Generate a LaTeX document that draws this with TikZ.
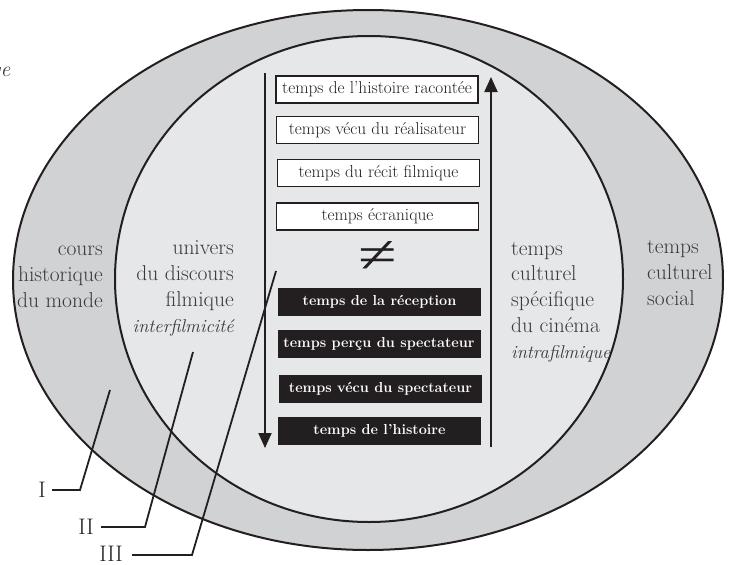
\documentclass[tikz,border=0pt]{standalone}
\usepackage{fontspec}
\newfontfamily\symbolfont{Liberation Serif}
\usetikzlibrary{arrows.meta}
\definecolor{ring}{HTML}{D1D2D4}
\definecolor{innerfill}{HTML}{E6E7E8}
\definecolor{ink}{HTML}{231F20}
\definecolor{labelink}{HTML}{3A3A3A}
\newcommand{\itl}[1]{{\fontsize{18.5}{25.7}\selectfont\itshape #1}}
\begin{document}
\begin{tikzpicture}[x=1pt,y=-1pt,
  whitebox/.style={draw=ink,fill=white,line width=1.2pt,minimum width=202pt,minimum height=27pt,inner sep=0pt,font=\fontsize{17.25}{20}\selectfont,text=ink},
  blackbox/.style={fill=ink,minimum width=203pt,minimum height=28pt,inner sep=0pt,font=\fontsize{14.45}{17}\selectfont\bfseries,text=white},
  lbl/.style={inner sep=0pt,font=\fontsize{21.5}{25.7}\selectfont,text=labelink},
  num/.style={inner sep=0pt,font=\fontsize{22.5}{26}\selectfont,text=ink},
  pointer/.style={draw=ink,line width=1.8pt},
  flow/.style={draw=ink,line width=2pt,-{Triangle[length=15pt,width=13pt]}},
  ring/.style={draw=ink,line width=2pt}
]
\useasboundingbox (0,0) rectangle (732,565);
\path[ring,fill=ring] (368,280) ellipse [x radius=355,y radius=270];
\path[ring,fill=innerfill] (369,279) ellipse [x radius=254,y radius=243];

% cut-off caption fragment
\node[lbl,anchor=base east,font=\fontsize{21.5}{25.7}\selectfont\itshape] (frag) at (10.5,76) {ge};

% boxes
\node[whitebox] (b1) at (377,89.5) {temps de l’histoire racontée};
\node[whitebox] (b2) at (377.5,130) {temps vécu du réalisateur};
\node[whitebox] (b3) at (378.5,173) {temps du récit filmique};
\node[whitebox] (b4) at (377.5,216.5) {temps écranique};
\node[font=\fontsize{52}{52}\symbolfont,text=ink,inner sep=0pt] (neq) at (378,257) {\scalebox{1.35}[1]{≠}};
\node[blackbox] (b5) at (379.5,302) {temps de la réception};
\node[blackbox] (b6) at (379,344) {temps perçu du spectateur};
\node[blackbox] (b7) at (380.5,389) {temps vécu du spectateur};
\node[blackbox] (b8) at (379.5,431) {temps de l’histoire};

% arrows
\coordinate (dtop) at (265,73);
\coordinate (dbot) at (265,448);
\coordinate (ubot) at (491,447);
\coordinate (utop) at (491,77);
\draw[flow] (dtop) -- (dbot);
\draw[flow] (ubot) -- (utop);

% labels (base anchor = baseline of the last line)
\node[lbl,align=right,anchor=base east] (world) at (103,307) {cours\\historique\\du monde};
\node[lbl,align=right,anchor=base east] (univ) at (234,332) {univers\\du discours\\filmique\\\itl{interfilmicité}};
\node[lbl,align=left,anchor=base west] (cine) at (511,358) {temps\\culturel\\spécifique\\du cinéma\\\itl{intrafilmique}};
\node[lbl,align=left,anchor=base west] (social) at (647,305) {temps\\culturel\\social};

% pointers
\node[num,anchor=east] (nI) at (46,490) {I};
\node[num,anchor=east] (nII) at (94,527) {II};
\node[num,anchor=east] (nIII) at (123,554) {III};
\coordinate (kI) at (80,490);
\coordinate (eI) at (110,390);
\coordinate (kII) at (145,527);
\coordinate (eII) at (193,352);
\coordinate (kIII) at (192,555);
\coordinate (eIII) at (276,271);
\draw[pointer] ([xshift=6pt]nI.east) -- (kI) -- (eI);
\draw[pointer] ([xshift=7pt]nII.east) -- (kII) -- (eII);
\draw[pointer] ([xshift=9pt,yshift=-1pt]nIII.east) -- (kIII) -- (eIII);
\end{tikzpicture}
\end{document}
